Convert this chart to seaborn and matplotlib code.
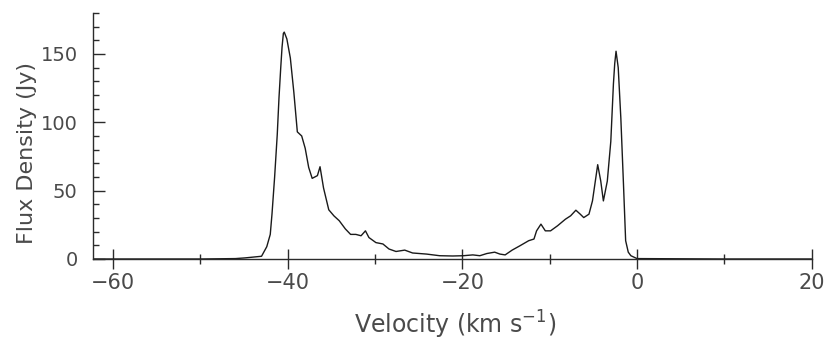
import matplotlib
matplotlib.use("Agg")
import matplotlib.pyplot as plt
import seaborn as sns
import pandas as pd
from matplotlib.ticker import MultipleLocator

# spectrum
velocity = [-62.3, -50.0, -46.0, -44.9, -43.0, -42.4, -42.0, -41.8, -41.5, -41.2, -41.0,
            -40.8, -40.65, -40.5, -40.4, -40.1, -39.7, -39.3, -38.9, -38.4, -38.0,
            -37.6, -37.2, -36.6, -36.3, -35.9, -35.3, -34.7, -34.1, -33.4, -32.8,
            -32.2, -31.6, -31.1, -30.7, -29.9, -29.1, -28.4, -27.6, -26.6, -25.7,
            -24.1, -22.6, -21.1, -19.9, -18.8, -18.0, -17.2, -16.3, -15.7, -15.1,
            -14.3, -13.4, -12.4, -11.8, -11.5, -11.0, -10.5, -9.9, -9.1, -8.2,
            -7.6, -7.0, -6.5, -6.1, -5.5, -5.1, -4.5, -4.15, -3.85, -3.4, -3.0,
            -2.7, -2.55, -2.4, -2.15, -1.85, -1.55, -1.3, -1.0, -0.7, 0.0, 10.0, 20.0]
flux = [0, 0, 0.3, 0.8, 2, 9, 18, 33, 60, 91, 118,
        140, 155, 165, 166, 161, 147, 122, 93, 90, 81,
        67, 59, 61, 67.5, 52, 36, 31.5, 28, 22, 18,
        18, 17, 20.6, 15.7, 12, 11, 7.3, 5.5, 6.5, 4.4,
        3.6, 2.4, 2.2, 2.4, 3, 2.4, 4, 5, 3.6, 3,
        6.5, 9.7, 13.4, 14.6, 20.6, 25.5, 20.6, 20.6, 24.3, 29.1,
        31.6, 35.7, 32.8, 30.3, 32.8, 42.5, 69, 57, 42.5, 57, 86,
        128, 143, 152, 140, 103, 55, 13.4, 5, 2.4, 0.3, 0, 0]

x_major = [-60, -40, -20, 0, 20]
y_major = [0, 50, 100, 150]

df = pd.DataFrame({"velocity": velocity, "flux": flux})

sns.set_style("ticks")
plt.rcParams["font.family"] = ["DejaVu Sans"]

ink = "#2b2b2b"
txt = "#4a4a4a"
fig = plt.figure(figsize=(8.26, 3.5), dpi=100)
ax = fig.add_axes([0.1126, 0.26, 0.870, 0.703])

sns.lineplot(data=df, x="velocity", y="flux", ax=ax, color="#1a1a1a", linewidth=1.0)

ax.set_xlim(-62.3, 20)
ax.set_ylim(0, 180)
ax.set_xticks(x_major)
ax.set_yticks(y_major)
ax.xaxis.set_minor_locator(MultipleLocator(10))
ax.yaxis.set_minor_locator(MultipleLocator(10))

sns.despine(ax=ax)
for side in ["left", "bottom"]:
    ax.spines[side].set_linewidth(1.0)
    ax.spines[side].set_color(ink)

ax.tick_params(axis="x", which="major", direction="inout", length=14, width=1.0,
               color=ink, labelsize=15, labelcolor=txt, pad=3)
ax.tick_params(axis="x", which="minor", direction="inout", length=7, width=1.0, color=ink)
ax.tick_params(axis="y", which="major", direction="in", length=8.5, width=1.0,
               color=ink, labelsize=14, labelcolor=txt, pad=11)
ax.tick_params(axis="y", which="minor", direction="in", length=4.3, width=1.0, color=ink)

ax.set_xlabel(r"Velocity (km s$^{-1}$)", fontsize=17, color=txt)
ax.set_ylabel("Flux Density (Jy)", fontsize=16, color=txt)
ax.xaxis.set_label_coords(0.504, -0.268)
ax.yaxis.set_label_coords(-0.092, 0.43)
ax.xaxis.label.set_va("center")
ax.yaxis.label.set_va("center")

plt.savefig("out.png", dpi=100, facecolor="white")
plt.close()
